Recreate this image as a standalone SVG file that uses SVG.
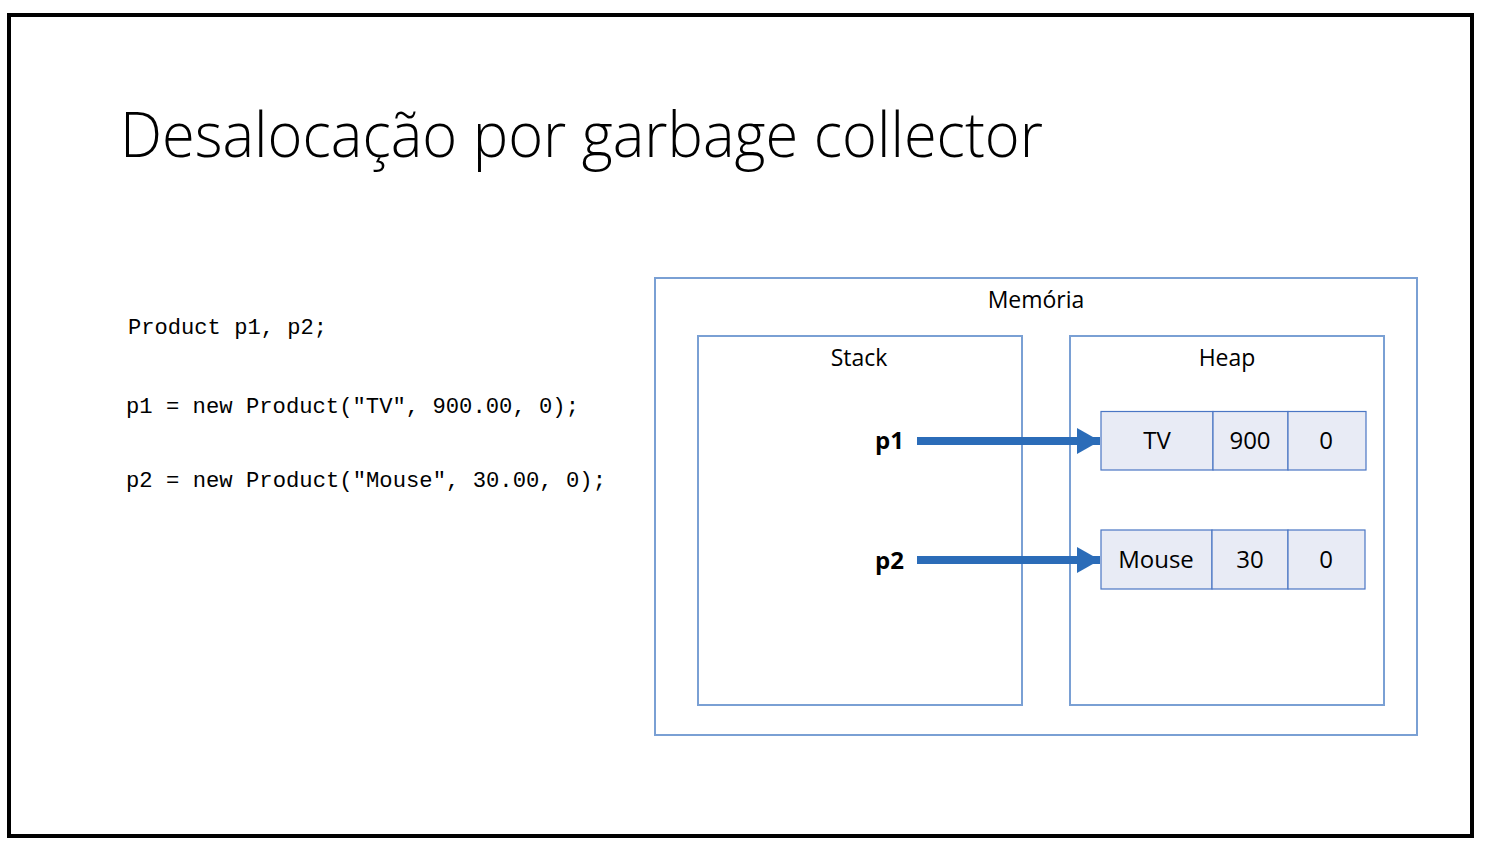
<svg xmlns="http://www.w3.org/2000/svg" width="1488" height="854" viewBox="0 0 1488 854">
  <style>
    .title { font-family: "Open Sans", "Liberation Sans", sans-serif; font-weight: 300; font-size: 62px; fill: #000; }
    .code { font-family: "Liberation Mono", monospace; font-size: 22px; fill: #000; }
    .label { font-family: "Open Sans", "Liberation Sans", sans-serif; font-size: 23px; fill: #000; text-anchor: middle; }
    .val { font-family: "Open Sans", "Liberation Sans", sans-serif; font-size: 24px; fill: #000; text-anchor: middle; }
    .var { font-family: "Open Sans", "Liberation Sans", sans-serif; font-weight: bold; font-size: 24px; fill: #000; text-anchor: end; }
    .cell { fill: #e8ebf5; stroke: #4a76c4; stroke-width: 1.2; }
    .box { fill: none; stroke: #7aa0d4; stroke-width: 2; }
    .ref { stroke: #2b6cb8; stroke-width: 8; fill: none; }
  </style>
  <defs>
    <marker id="arrowhead" markerUnits="userSpaceOnUse" markerWidth="24" markerHeight="26" refX="23" refY="13" orient="auto">
      <path d="M0,0 L23,13 L0,26 Z" fill="#2b6cb8"/>
    </marker>
  </defs>

  <rect x="0" y="0" width="1488" height="854" fill="#fff"/>
  <!-- slide frame -->
  <rect x="9" y="15" width="1463" height="821" fill="none" stroke="#000" stroke-width="4"/>

  <text class="title" x="120" y="157" textLength="923" lengthAdjust="spacingAndGlyphs">Desalocação por garbage collector</text>

  <g id="code">
    <text class="code" x="128" y="334" textLength="199" lengthAdjust="spacingAndGlyphs">Product p1, p2;</text>
    <text class="code" x="126" y="413" textLength="453" lengthAdjust="spacingAndGlyphs">p1 = new Product("TV", 900.00, 0);</text>
    <text class="code" x="126" y="487" textLength="480" lengthAdjust="spacingAndGlyphs">p2 = new Product("Mouse", 30.00, 0);</text>
  </g>

  <g id="memoria">
    <rect class="box" x="655" y="278" width="762" height="457"/>
    <text class="label" x="1036" y="308">Memória</text>
  </g>

  <g id="stack">
    <rect class="box" x="698" y="336" width="324" height="369"/>
    <text class="label" x="859" y="366">Stack</text>
    <text class="var" x="904" y="449">p1</text>
    <text class="var" x="904" y="569">p2</text>
  </g>

  <g id="heap">
    <rect class="box" x="1070" y="336" width="314" height="369"/>
    <text class="label" x="1227" y="366">Heap</text>
  </g>

  <g id="obj-tv">
    <rect class="cell" x="1101" y="411.5" width="112" height="58.5"/>
    <rect class="cell" x="1213" y="411.5" width="75" height="58.5"/>
    <rect class="cell" x="1288" y="411.5" width="78" height="58.5"/>
    <text class="val" x="1157" y="449">TV</text>
    <text class="val" x="1250" y="449">900</text>
    <text class="val" x="1326" y="449">0</text>
  </g>

  <g id="obj-mouse">
    <rect class="cell" x="1101" y="530" width="111" height="59"/>
    <rect class="cell" x="1212" y="530" width="76" height="59"/>
    <rect class="cell" x="1288" y="530" width="77" height="59"/>
    <text class="val" x="1156" y="568">Mouse</text>
    <text class="val" x="1250" y="568">30</text>
    <text class="val" x="1326" y="568">0</text>
  </g>

  <g id="connectors">
    <line class="ref" x1="917" y1="441" x2="1100" y2="441" marker-end="url(#arrowhead)"/>
    <line class="ref" x1="917" y1="560" x2="1100" y2="560" marker-end="url(#arrowhead)"/>
  </g>
</svg>
